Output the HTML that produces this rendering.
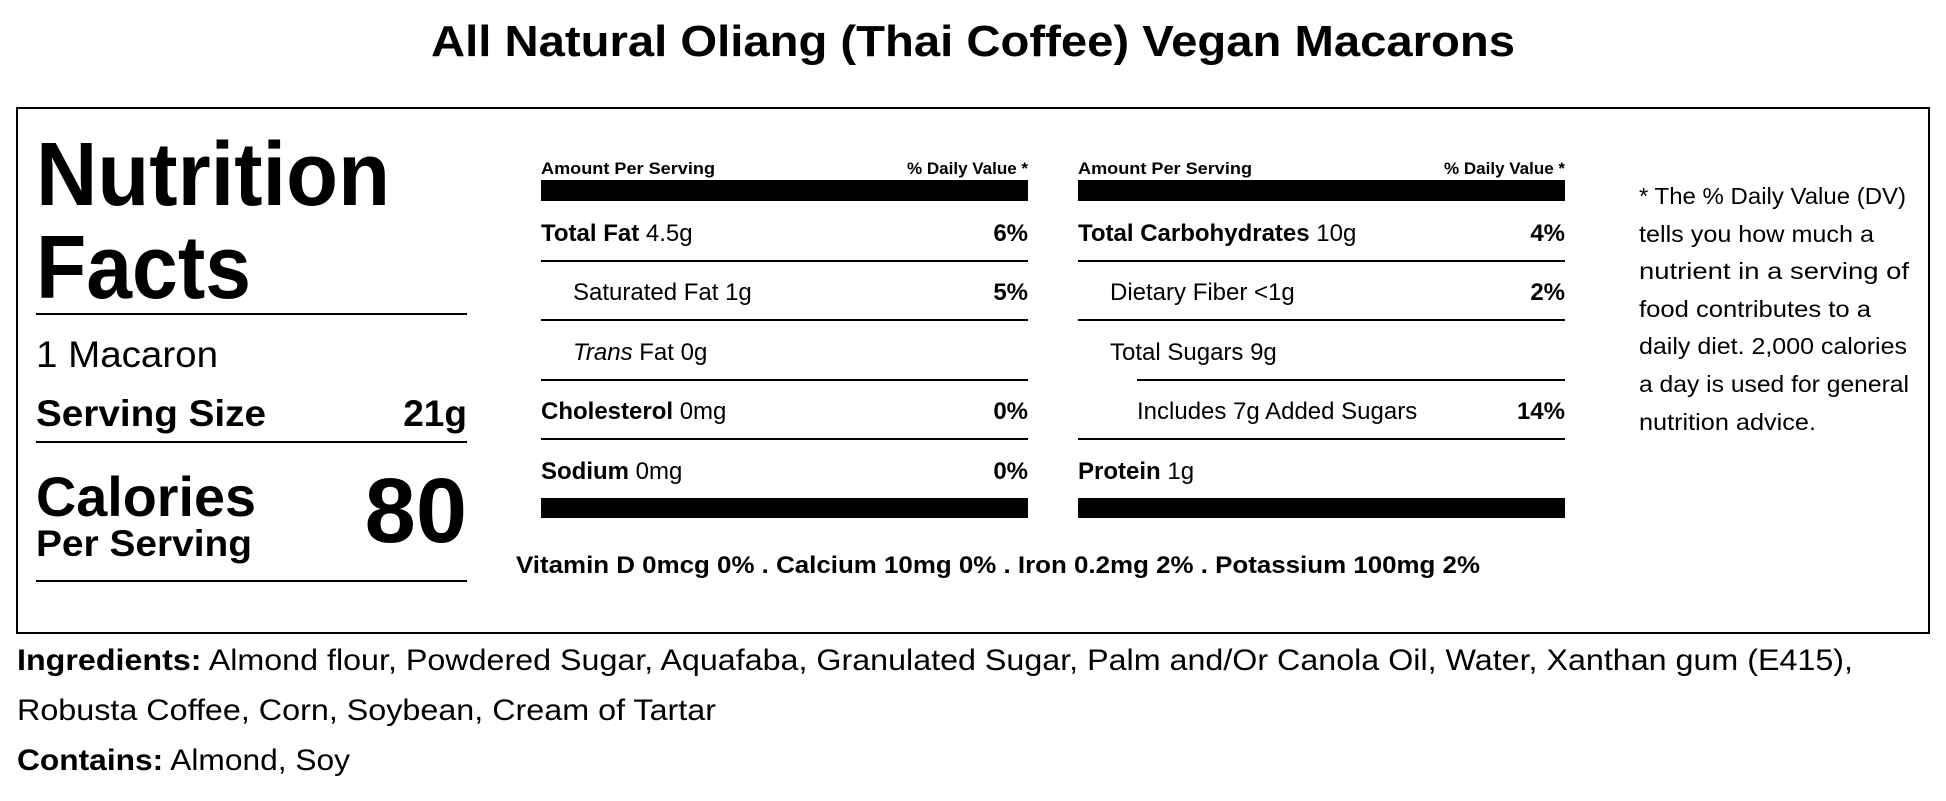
<!DOCTYPE html>
<html><head><meta charset="utf-8"><style>
html,body{margin:0;padding:0;background:#fff;}
svg{display:block;}
text{font-family:"Liberation Sans",sans-serif;fill:#000;}
.b{font-weight:bold;}
</style></head><body>
<svg width="1946" height="801" viewBox="0 0 1946 801" xmlns="http://www.w3.org/2000/svg">
<text x="431" y="56" class="b" font-size="44" textLength="1084" lengthAdjust="spacingAndGlyphs">All Natural Oliang (Thai Coffee) Vegan Macarons</text>
<rect x="17" y="108" width="1912" height="525" fill="none" stroke="#000" stroke-width="2"/>
<text x="36" y="205" class="b" font-size="90" textLength="354" lengthAdjust="spacingAndGlyphs">Nutrition</text>
<text x="36" y="298" class="b" font-size="90" textLength="215" lengthAdjust="spacingAndGlyphs">Facts</text>
<rect x="36" y="313" width="431" height="2"/>
<text x="36" y="367" font-size="37" textLength="182" lengthAdjust="spacingAndGlyphs">1 Macaron</text>
<text x="36" y="426" class="b" font-size="37" textLength="230" lengthAdjust="spacingAndGlyphs">Serving Size</text>
<text x="467" y="426" class="b" font-size="37" text-anchor="end">21g</text>
<rect x="36" y="441" width="431" height="2"/>
<text x="36" y="516" class="b" font-size="56" textLength="220" lengthAdjust="spacingAndGlyphs">Calories</text>
<text x="36" y="556" class="b" font-size="37" textLength="216" lengthAdjust="spacingAndGlyphs">Per Serving</text>
<text x="467" y="542" class="b" font-size="92" text-anchor="end">80</text>
<rect x="36" y="580" width="431" height="2"/>

<text x="541" y="174" class="b" font-size="17" textLength="174" lengthAdjust="spacingAndGlyphs">Amount Per Serving</text>
<text x="1028" y="174" class="b" font-size="17" text-anchor="end">% Daily Value *</text>
<rect x="541" y="180" width="487" height="21"/>
<text x="541" y="241" font-size="24"><tspan class="b">Total Fat</tspan> 4.5g</text>
<text x="1028" y="241" class="b" font-size="24" text-anchor="end">6%</text>
<rect x="541" y="260" width="487" height="2"/>
<text x="573" y="300" font-size="24">Saturated Fat 1g</text>
<text x="1028" y="300" class="b" font-size="24" text-anchor="end">5%</text>
<rect x="541" y="319" width="487" height="2"/>
<text x="573" y="360" font-size="24"><tspan font-style="italic">Trans</tspan> Fat 0g</text>
<rect x="541" y="379" width="487" height="2"/>
<text x="541" y="419" font-size="24"><tspan class="b">Cholesterol</tspan> 0mg</text>
<text x="1028" y="419" class="b" font-size="24" text-anchor="end">0%</text>
<rect x="541" y="438" width="487" height="2"/>
<text x="541" y="479" font-size="24"><tspan class="b">Sodium</tspan> 0mg</text>
<text x="1028" y="479" class="b" font-size="24" text-anchor="end">0%</text>
<rect x="541" y="498" width="487" height="20"/>

<text x="1078" y="174" class="b" font-size="17" textLength="174" lengthAdjust="spacingAndGlyphs">Amount Per Serving</text>
<text x="1565" y="174" class="b" font-size="17" text-anchor="end">% Daily Value *</text>
<rect x="1078" y="180" width="487" height="21"/>
<text x="1078" y="241" font-size="24"><tspan class="b">Total Carbohydrates</tspan> 10g</text>
<text x="1565" y="241" class="b" font-size="24" text-anchor="end">4%</text>
<rect x="1078" y="260" width="487" height="2"/>
<text x="1110" y="300" font-size="24">Dietary Fiber &lt;1g</text>
<text x="1565" y="300" class="b" font-size="24" text-anchor="end">2%</text>
<rect x="1078" y="319" width="487" height="2"/>
<text x="1110" y="360" font-size="24">Total Sugars 9g</text>
<rect x="1137" y="379" width="428" height="2"/>
<text x="1137" y="419" font-size="24">Includes 7g Added Sugars</text>
<text x="1565" y="419" class="b" font-size="24" text-anchor="end">14%</text>
<rect x="1078" y="438" width="487" height="2"/>
<text x="1078" y="479" font-size="24"><tspan class="b">Protein</tspan> 1g</text>
<rect x="1078" y="498" width="487" height="20"/>

<text x="516" y="573" class="b" font-size="24" textLength="964" lengthAdjust="spacingAndGlyphs">Vitamin D 0mcg 0% . Calcium 10mg 0% . Iron 0.2mg 2% . Potassium 100mg 2%</text>

<g font-size="23">
<text x="1639" y="204" textLength="267" lengthAdjust="spacingAndGlyphs">* The % Daily Value (DV)</text>
<text x="1639" y="242" textLength="235" lengthAdjust="spacingAndGlyphs">tells you how much a</text>
<text x="1639" y="279" textLength="270" lengthAdjust="spacingAndGlyphs">nutrient in a serving of</text>
<text x="1639" y="317" textLength="232" lengthAdjust="spacingAndGlyphs">food contributes to a</text>
<text x="1639" y="354" textLength="268" lengthAdjust="spacingAndGlyphs">daily diet. 2,000 calories</text>
<text x="1639" y="392" textLength="270" lengthAdjust="spacingAndGlyphs">a day is used for general</text>
<text x="1639" y="430" textLength="177" lengthAdjust="spacingAndGlyphs">nutrition advice.</text>
</g>

<text x="17" y="670" font-size="30" textLength="1836" lengthAdjust="spacingAndGlyphs"><tspan class="b">Ingredients:</tspan> Almond flour, Powdered Sugar, Aquafaba, Granulated Sugar, Palm and/Or Canola Oil, Water, Xanthan gum (E415),</text>
<text x="17" y="720" font-size="30" textLength="699" lengthAdjust="spacingAndGlyphs">Robusta Coffee, Corn, Soybean, Cream of Tartar</text>
<text x="17" y="770" font-size="30" textLength="333" lengthAdjust="spacingAndGlyphs"><tspan class="b">Contains:</tspan> Almond, Soy</text>
</svg>
</body></html>
